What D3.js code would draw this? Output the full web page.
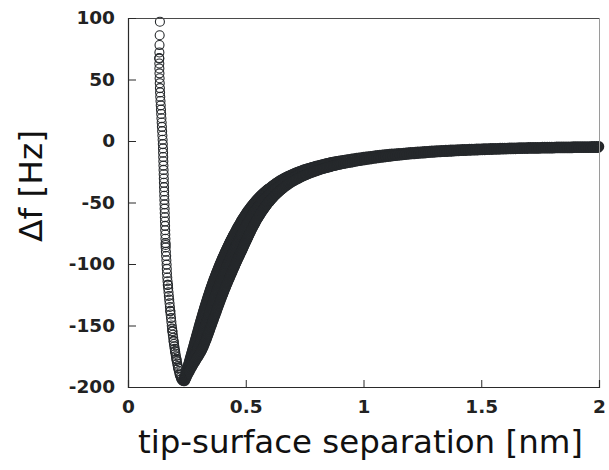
<!DOCTYPE html>
<html><head><meta charset="utf-8">
<script src="https://cdn.jsdelivr.net/npm/d3@7"></script>
<style>html,body{margin:0;padding:0;background:#fff;} svg{display:block;}</style>
</head><body>
<script>
// ---------- data ----------
const xTicks = [0, 0.5, 1, 1.5, 2];
const yTicks = [-200, -150, -100, -50, 0, 50, 100];
const xTitle = "tip-surface separation [nm]";
const yTitle = "Δf [Hz]";

// curve A: repulsive branch (sparse) [separation nm, Δf Hz]
const curveA_left = [[0.1355,97],[0.1345,86],[0.1338,78],[0.1333,72],[0.1330,67],[0.1330,63],[0.1332,59],[0.1336,55],[0.1342,51],[0.1348,47],[0.1355,43],[0.1362,39.5],[0.1370,36],[0.1380,32.5],[0.1390,29],[0.1400,25.5],[0.1410,22],[0.1420,18.5],[0.1430,15],[0.1440,11.5],[0.1450,8],[0.1460,4.5],[0.1470,1],[0.1478,-2.5],[0.1485,-6],[0.1490,-9.5],[0.1495,-13],[0.1500,-16.5],[0.1505,-20],[0.1510,-23.5],[0.1515,-27],[0.1520,-30.5],[0.1525,-34],[0.1530,-37.5],[0.1535,-41],[0.1540,-44.5],[0.1545,-48],[0.1550,-51.5],[0.1555,-55],[0.1560,-58.5],[0.1565,-62],[0.1570,-65.5],[0.1575,-69],[0.1580,-72.5],[0.1585,-76],[0.1590,-79.5],[0.1595,-83],[0.1600,-86.5],[0.1610,-90],[0.1620,-93.5],[0.1630,-97],[0.1640,-100.5],[0.1648,-104],[0.1655,-107.5],[0.1668,-111],[0.1680,-114],[0.1693,-117],[0.1707,-120],[0.1721,-123],[0.1735,-126],[0.1750,-129],[0.1765,-132],[0.1780,-135],[0.1795,-138],[0.1810,-141],[0.1826,-144],[0.1842,-147],[0.1858,-150],[0.1872,-152.5],[0.1887,-155],[0.1903,-157.5],[0.1919,-160],[0.1936,-162.5],[0.1953,-165],[0.1968,-167],[0.1984,-169],[0.2000,-171],[0.2017,-173],[0.2035,-175],[0.2053,-177],[0.2072,-179],[0.2092,-181],[0.2113,-183],[0.2136,-185],[0.2160,-187],[0.2186,-189],[0.2210,-190.5],[0.2238,-192],[0.2268,-193.5],[0.2300,-194.5],[0.2330,-195]];

// curve A: attractive branch (dense)
const curveA_right = [[0.236,-195.0],[0.238,-193.8],[0.240,-192.5],[0.242,-191.2],[0.244,-189.9],[0.246,-188.6],[0.248,-187.3],[0.250,-186.0],[0.252,-184.7],[0.254,-183.3],[0.256,-182.0],[0.258,-180.6],[0.260,-179.3],[0.262,-177.9],[0.264,-176.5],[0.266,-175.2],[0.268,-173.8],[0.270,-172.5],[0.272,-171.1],[0.274,-169.8],[0.276,-168.4],[0.278,-167.0],[0.280,-165.6],[0.282,-164.2],[0.284,-162.9],[0.286,-161.5],[0.288,-160.1],[0.290,-158.7],[0.292,-157.3],[0.294,-156.0],[0.296,-154.6],[0.298,-153.2],[0.300,-151.9],[0.302,-150.5],[0.304,-149.2],[0.306,-147.8],[0.308,-146.5],[0.310,-145.1],[0.312,-143.8],[0.314,-142.5],[0.316,-141.2],[0.318,-139.9],[0.320,-138.6],[0.322,-137.3],[0.324,-136.0],[0.326,-134.8],[0.328,-133.5],[0.330,-132.3],[0.332,-131.1],[0.334,-129.8],[0.336,-128.6],[0.338,-127.4],[0.340,-126.3],[0.342,-125.1],[0.344,-123.9],[0.346,-122.8],[0.348,-121.6],[0.350,-120.5],[0.352,-119.4],[0.354,-118.3],[0.356,-117.2],[0.358,-116.1],[0.360,-115.0],[0.362,-114.0],[0.364,-112.9],[0.366,-111.9],[0.368,-110.9],[0.370,-109.9],[0.372,-108.9],[0.374,-107.9],[0.376,-106.9],[0.378,-106.0],[0.380,-105.0],[0.382,-104.1],[0.384,-103.1],[0.386,-102.2],[0.388,-101.2],[0.390,-100.3],[0.392,-99.4],[0.394,-98.5],[0.396,-97.6],[0.398,-96.7],[0.400,-95.8],[0.402,-95.0],[0.404,-94.1],[0.406,-93.2],[0.408,-92.4],[0.410,-91.5],[0.412,-90.7],[0.414,-89.8],[0.416,-89.0],[0.418,-88.2],[0.420,-87.4],[0.422,-86.5],[0.424,-85.7],[0.426,-84.9],[0.428,-84.1],[0.430,-83.3],[0.432,-82.5],[0.434,-81.8],[0.436,-81.0],[0.438,-80.3],[0.440,-79.5],[0.442,-78.8],[0.444,-78.0],[0.446,-77.3],[0.448,-76.5],[0.450,-75.8],
[0.453,-74.7],[0.456,-73.6],[0.459,-72.5],[0.462,-71.4],[0.465,-70.4],[0.468,-69.4],[0.471,-68.4],[0.474,-67.4],[0.477,-66.4],[0.480,-65.3],[0.483,-64.4],[0.486,-63.5],[0.489,-62.6],[0.492,-61.7],[0.495,-60.8],[0.498,-59.9],[0.501,-59.1],[0.504,-58.2],[0.507,-57.4],[0.510,-56.6],[0.513,-55.8],[0.516,-55.0],[0.519,-54.2],[0.522,-53.5],[0.525,-52.8],[0.528,-52.1],[0.531,-51.4],[0.534,-50.7],[0.537,-49.9],[0.540,-49.3],[0.543,-48.6],[0.546,-48.0],[0.549,-47.4],[0.552,-46.8],[0.555,-46.1],[0.558,-45.5],[0.561,-44.9],[0.564,-44.4],[0.567,-43.8],[0.570,-43.3],[0.573,-42.7],[0.576,-42.2],[0.579,-41.7],[0.582,-41.2],[0.585,-40.7],[0.588,-40.3],[0.591,-39.7],[0.594,-39.2],[0.597,-38.8],[0.600,-38.4],
[0.606,-37.5],[0.612,-36.5],[0.618,-35.7],[0.624,-34.9],[0.630,-34.0],[0.636,-33.3],[0.642,-32.6],[0.648,-31.8],[0.654,-31.2],[0.660,-30.6],[0.666,-29.9],[0.672,-29.3],[0.678,-28.8],[0.684,-28.3],[0.690,-27.7],[0.696,-27.2],[0.702,-26.7],[0.708,-26.2],[0.714,-25.7],[0.720,-25.3],[0.726,-24.8],[0.732,-24.4],[0.738,-24.0],[0.744,-23.5],[0.750,-23.2],[0.756,-22.8],[0.762,-22.4],[0.768,-22.1],[0.774,-21.8],[0.780,-21.4],[0.786,-21.1],[0.792,-20.8],[0.798,-20.4],[0.804,-20.1],[0.810,-19.9],[0.816,-19.6],[0.822,-19.3],[0.828,-19.0],[0.834,-18.8],[0.840,-18.4],[0.846,-18.2],[0.852,-17.9],[0.858,-17.6],[0.864,-17.4],[0.870,-17.2],[0.876,-16.9],[0.882,-16.7],[0.888,-16.5],[0.894,-16.2],[0.900,-16.0],
[0.91,-15.7],[0.92,-15.4],[0.93,-15.1],[0.94,-14.8],[0.95,-14.5],[0.96,-14.2],[0.97,-13.9],[0.98,-13.6],[0.99,-13.4],[1.00,-13.1],[1.01,-12.9],[1.02,-12.6],[1.03,-12.4],[1.04,-12.2],[1.05,-11.9],[1.06,-11.7],[1.07,-11.5],[1.08,-11.3],[1.09,-11.1],[1.10,-10.9],[1.11,-10.7],[1.12,-10.5],[1.13,-10.4],[1.14,-10.2],[1.15,-10.0],[1.16,-9.9],[1.17,-9.7],[1.18,-9.5],[1.19,-9.4],[1.20,-9.2],[1.21,-9.1],[1.22,-8.9],[1.23,-8.8],[1.24,-8.7],[1.25,-8.5],[1.26,-8.4],[1.27,-8.3],[1.28,-8.2],[1.29,-8.0],[1.30,-7.9],[1.31,-7.8],[1.32,-7.7],[1.33,-7.6],[1.34,-7.5],[1.35,-7.4],[1.36,-7.3],[1.37,-7.2],[1.38,-7.1],[1.39,-7.1],[1.40,-7.0],[1.41,-6.9],[1.42,-6.8],[1.43,-6.7],[1.44,-6.7],[1.45,-6.6],[1.46,-6.5],[1.47,-6.5],[1.48,-6.4],[1.49,-6.3],[1.50,-6.3],[1.51,-6.2],[1.52,-6.1],[1.53,-6.1],[1.54,-6.0],[1.55,-6.0],[1.56,-5.9],[1.57,-5.9],[1.58,-5.8],[1.59,-5.8],[1.60,-5.7],[1.61,-5.7],[1.62,-5.6],[1.63,-5.6],[1.64,-5.5],[1.65,-5.5],[1.66,-5.4],[1.67,-5.4],[1.68,-5.3],[1.69,-5.3],[1.70,-5.2],[1.71,-5.2],[1.72,-5.2],[1.73,-5.1],[1.74,-5.1],[1.75,-5.1],[1.76,-5.0],[1.77,-5.0],[1.78,-4.9],[1.79,-4.9],[1.80,-4.9],[1.81,-4.9],[1.82,-4.8],[1.83,-4.8],[1.84,-4.8],[1.85,-4.7],[1.86,-4.7],[1.87,-4.7],[1.88,-4.7],[1.89,-4.6],[1.90,-4.6],[1.91,-4.6],[1.92,-4.6],[1.93,-4.5],[1.94,-4.5],[1.95,-4.5],[1.96,-4.5],[1.97,-4.4],[1.98,-4.4],[1.99,-4.4],[2.00,-4.4]];

// curve B: repulsive branch points (coincide with curve A)
const curveB_left = [[0.1325,67.5],[0.1598,-84.5],[0.1693,-117],[0.1797,-138.5],[0.1884,-154.5],[0.1940,-163],[0.2000,-171],[0.2060,-177.5],[0.2130,-184.5],[0.2200,-190],[0.2270,-193.5]];

// curve B: attractive branch
const curveB_right = [[0.241,-195.0],[0.244,-193.8],[0.247,-192.5],[0.250,-191.2],[0.253,-189.9],[0.2567,-188.6],[0.2604,-187.3],[0.264,-186.0],[0.268,-184.7],[0.272,-183.3],[0.276,-182.0],[0.2805,-180.6],[0.2847,-179.3],[0.2892,-177.9],[0.2936,-176.5],[0.2979,-175.2],[0.3023,-173.8],[0.3062,-172.5],[0.3103,-171.1],[0.3142,-169.8],[0.3173,-168.4],[0.3204,-167.0],[0.3235,-165.6],[0.3265,-164.2],[0.3293,-162.9],[0.3321,-161.5],[0.3349,-160.1],[0.3375,-158.7],[0.3401,-157.3],[0.3426,-156.0],[0.3452,-154.6],[0.3477,-153.2],[0.3502,-151.9],[0.3528,-150.5],[0.3553,-149.2],[0.3579,-147.8],[0.3604,-146.5],[0.363,-145.1],[0.3655,-143.8],[0.368,-142.5],[0.3705,-141.2],[0.373,-139.9],[0.3754,-138.6],[0.3778,-137.3],[0.3802,-136.0],[0.3826,-134.8],[0.385,-133.5],[0.3873,-132.3],[0.3897,-131.1],[0.392,-129.8],[0.3944,-128.6],[0.3968,-127.4],[0.3991,-126.3],[0.4015,-125.1],[0.4038,-123.9],[0.4062,-122.8],[0.4085,-121.6],[0.4109,-120.5],[0.4132,-119.4],[0.4155,-118.3],[0.4178,-117.2],[0.4202,-116.1],[0.4225,-115.0],[0.4248,-114.0],[0.4271,-112.9],[0.4294,-111.9],[0.4317,-110.9],[0.434,-109.9],[0.4362,-108.9],[0.4384,-107.9],[0.4406,-106.9],[0.4428,-106.0],[0.445,-105.0],[0.4472,-104.1],[0.4494,-103.1],[0.4516,-102.2],[0.4538,-101.2],[0.456,-100.3],[0.4581,-99.4],[0.4602,-98.5],[0.4622,-97.6],[0.4643,-96.7],[0.4664,-95.8],[0.4685,-95.0],[0.4706,-94.1],[0.4727,-93.2],[0.4748,-92.4],[0.4768,-91.5],[0.4789,-90.7],[0.481,-89.8],[0.483,-89.0],[0.4849,-88.2],[0.4868,-87.4],[0.4887,-86.5],[0.4906,-85.7],[0.4925,-84.9],[0.4944,-84.1],[0.4963,-83.3],[0.4983,-82.5],[0.5002,-81.8],[0.5021,-81.0],[0.504,-80.3],[0.5059,-79.5],[0.5078,-78.8],[0.5096,-78.0],[0.5115,-77.3],[0.5133,-76.5],[0.5152,-75.8],[0.518,-74.7],[0.5207,-73.6],[0.5235,-72.5],[0.5263,-71.4],[0.5291,-70.4],[0.5319,-69.4],[0.5347,-68.4],[0.5375,-67.4],[0.5403,-66.4],[0.5431,-65.3],[0.5459,-64.4],[0.5487,-63.5],[0.5515,-62.6],[0.5543,-61.7],[0.5572,-60.8],[0.56,-59.9],[0.5628,-59.1],[0.5656,-58.2],[0.5685,-57.4],[0.5713,-56.6],[0.5742,-55.8],[0.577,-55.0],[0.5798,-54.2],[0.5827,-53.5],[0.5856,-52.8],[0.5884,-52.1],[0.5913,-51.4],[0.5941,-50.7],[0.597,-49.9],[0.5999,-49.3],[0.6027,-48.6],[0.6056,-48.0],[0.6085,-47.4],[0.6114,-46.8],[0.6142,-46.1],[0.6171,-45.5],[0.62,-44.9],[0.6229,-44.4],[0.6258,-43.8],[0.6287,-43.3],[0.6315,-42.7],[0.6344,-42.2],[0.6373,-41.7],[0.6402,-41.2],[0.6431,-40.7],[0.6461,-40.3],[0.649,-39.7],[0.652,-39.2],[0.655,-38.8],[0.658,-38.4],
[0.663,-37.7],[0.669,-36.8],[0.675,-35.9],[0.681,-35.2],[0.687,-34.4],[0.693,-33.6],[0.699,-33.0],[0.705,-32.3],[0.711,-31.6],[0.717,-31.0],[0.723,-30.4],[0.729,-29.8],[0.735,-29.2],[0.741,-28.7],[0.747,-28.3],[0.753,-27.7],[0.759,-27.2],[0.765,-26.7],[0.771,-26.3],[0.777,-25.8],[0.783,-25.4],[0.789,-25.0],[0.795,-24.5],[0.801,-24.2],[0.807,-23.7],[0.813,-23.4],[0.819,-23.0],[0.825,-22.6],[0.831,-22.3],[0.837,-22.0],[0.843,-21.7],[0.849,-21.3],[0.855,-21.1],[0.861,-20.8],[0.867,-20.4],[0.873,-20.1],[0.879,-19.9],[0.885,-19.6],[0.891,-19.3],[0.897,-19.1],
[0.905,-18.8],[0.915,-18.5],[0.925,-18.1],[0.935,-17.7],[0.945,-17.4],[0.955,-17.0],[0.965,-16.7],[0.975,-16.3],[0.985,-16.0],[0.995,-15.7],[1.005,-15.4],[1.015,-15.1],[1.025,-14.8],[1.035,-14.5],[1.045,-14.2],[1.055,-13.9],[1.065,-13.7],[1.075,-13.4],[1.085,-13.2],[1.095,-12.9],[1.105,-12.7],[1.115,-12.5],[1.125,-12.2],[1.135,-12.0],[1.145,-11.8],[1.155,-11.6],[1.165,-11.4],[1.175,-11.2],[1.185,-11.0],[1.195,-10.8],[1.205,-10.6],[1.215,-10.5],[1.225,-10.3],[1.235,-10.2],[1.245,-10.0],[1.255,-9.9],[1.265,-9.7],[1.275,-9.6],[1.285,-9.4],[1.295,-9.3],[1.305,-9.2],[1.315,-9.0],[1.325,-8.9],[1.335,-8.8],[1.345,-8.7],[1.355,-8.6],[1.365,-8.5],[1.375,-8.4],[1.385,-8.2],[1.395,-8.1],[1.405,-8.0],[1.415,-7.9],[1.425,-7.9],[1.435,-7.8],[1.445,-7.7],[1.455,-7.6],[1.465,-7.5],[1.475,-7.5],[1.485,-7.4],[1.495,-7.3],[1.505,-7.2],[1.515,-7.2],[1.525,-7.1],[1.535,-7.0],[1.545,-7.0],[1.555,-6.9],[1.565,-6.8],[1.575,-6.8],[1.585,-6.7],[1.595,-6.6],[1.605,-6.6],[1.615,-6.5],[1.625,-6.5],[1.635,-6.4],[1.645,-6.4],[1.655,-6.3],[1.665,-6.3],[1.675,-6.2],[1.685,-6.2],[1.695,-6.2],[1.705,-6.1],[1.715,-6.1],[1.725,-6.0],[1.735,-6.0],[1.745,-6.0],[1.755,-5.9],[1.765,-5.9],[1.775,-5.9],[1.785,-5.8],[1.795,-5.8],[1.805,-5.8],[1.815,-5.7],[1.825,-5.7],[1.835,-5.7],[1.845,-5.7],[1.855,-5.6],[1.865,-5.6],[1.875,-5.6],[1.885,-5.6],[1.895,-5.5],[1.905,-5.5],[1.915,-5.5],[1.925,-5.5],[1.935,-5.5],[1.945,-5.4],[1.955,-5.4],[1.965,-5.4],[1.975,-5.4],[1.985,-5.4],[1.995,-5.4]];

// curve C: attractive branch lying between A and B
const curveC_right = [[0.241,-193.8],[0.2435,-192.5],[0.246,-191.2],[0.2485,-189.9],[0.2514,-188.6],[0.2542,-187.3],[0.257,-186.0],[0.260,-184.7],[0.263,-183.3],[0.266,-182.0],[0.2693,-180.6],[0.2724,-179.3],[0.2756,-177.9],[0.2788,-176.5],[0.282,-175.2],[0.2852,-173.8],[0.2881,-172.5],[0.2912,-171.1],[0.2941,-169.8],[0.2967,-168.4],[0.2992,-167.0],[0.3018,-165.6],[0.3043,-164.2],[0.3067,-162.9],[0.3091,-161.5],[0.3115,-160.1],[0.3138,-158.7],[0.3161,-157.3],[0.3183,-156.0],[0.3206,-154.6],[0.3229,-153.2],[0.3251,-151.9],[0.3274,-150.5],[0.3297,-149.2],[0.332,-147.8],[0.3342,-146.5],[0.3365,-145.1],[0.3388,-143.8],[0.341,-142.5],[0.3433,-141.2],[0.3455,-139.9],[0.3477,-138.6],[0.3499,-137.3],[0.3521,-136.0],[0.3543,-134.8],[0.3565,-133.5],[0.3587,-132.3],[0.3609,-131.1],[0.363,-129.8],[0.3652,-128.6],[0.3674,-127.4],[0.3696,-126.3],[0.3718,-125.1],[0.3739,-123.9],[0.3761,-122.8],[0.3783,-121.6],[0.3805,-120.5],[0.3826,-119.4],[0.3848,-118.3],[0.3869,-117.2],[0.3891,-116.1],[0.3913,-115.0],[0.3934,-114.0],[0.3956,-112.9],[0.3977,-111.9],[0.3999,-110.9],[0.402,-109.9],[0.4041,-108.9],[0.4062,-107.9],[0.4083,-106.9],[0.4104,-106.0],[0.4125,-105.0],[0.4146,-104.1],[0.4167,-103.1],[0.4188,-102.2],[0.4209,-101.2],[0.423,-100.3],[0.4251,-99.4],[0.4271,-98.5],[0.4291,-97.6],[0.4312,-96.7],[0.4332,-95.8],[0.4353,-95.0],[0.4373,-94.1],[0.4394,-93.2],[0.4414,-92.4],[0.4434,-91.5],[0.4455,-90.7],[0.4475,-89.8],[0.4495,-89.0],[0.4515,-88.2],[0.4534,-87.4],[0.4554,-86.5],[0.4573,-85.7],[0.4593,-84.9],[0.4612,-84.1],[0.4632,-83.3],[0.4652,-82.5],[0.4671,-81.8],[0.4691,-81.0],[0.471,-80.3],[0.473,-79.5],[0.4749,-78.8],[0.4768,-78.0],[0.4788,-77.3],[0.4807,-76.5],[0.4826,-75.8],[0.4855,-74.7],[0.4884,-73.6],[0.4913,-72.5],[0.4942,-71.4],[0.4971,-70.4],[0.5,-69.4],[0.5029,-68.4],[0.5058,-67.4],[0.5087,-66.4],[0.5116,-65.3],[0.5145,-64.4],[0.5174,-63.5],[0.5203,-62.6],[0.5232,-61.7],[0.5261,-60.8],[0.529,-59.9],[0.5319,-59.1],[0.5348,-58.2],[0.5378,-57.4],[0.5407,-56.6],[0.5436,-55.8],[0.5465,-55.0],[0.5494,-54.2],[0.5524,-53.5],[0.5553,-52.8],[0.5582,-52.1],[0.5612,-51.4],[0.5641,-50.7],[0.567,-49.9],[0.57,-49.3],[0.5729,-48.6],[0.5758,-48.0],[0.5788,-47.4],[0.5817,-46.8],[0.5846,-46.1],[0.5876,-45.5],[0.5905,-44.9],[0.5935,-44.4],[0.5964,-43.8],[0.5994,-43.3],[0.6023,-42.7],[0.6052,-42.2],[0.6082,-41.7],[0.6111,-41.2],[0.6141,-40.7],[0.6171,-40.3],[0.62,-39.7],[0.623,-39.2],[0.626,-38.8],[0.629,-38.4],
[0.635,-37.8],[0.641,-37.0],[0.647,-36.2],[0.653,-35.4],[0.659,-34.6],[0.665,-33.7],[0.671,-33.0],[0.677,-32.3],[0.683,-31.7],[0.689,-31.0],[0.695,-30.4],[0.701,-29.8],[0.707,-29.2],[0.713,-28.6],[0.719,-28.1],[0.725,-27.6],[0.731,-27.1],[0.737,-26.6],[0.743,-26.1],[0.749,-25.7]];

// ---------- drawing ----------
const W = 609, H = 470;
const L = 128, R = 599, T = 18, B = 387;
const ink = "#25282b";

const svg = d3.select("body").append("svg").attr("width", W).attr("height", H);
svg.append("rect").attr("width", W).attr("height", H).attr("fill", "#fff");

const x = d3.scaleLinear().domain([0, 2]).range([L, R]);
const y = d3.scaleLinear().domain([-200, 100]).range([B, T]);

// markers: sparse repulsive points thin, dense attractive points drawn with heavier outline
const series = [
  {data: curveA_right, sw: 2.2, r: 4.2},
  {data: curveC_right, sw: 2.2, r: 4.2},
  {data: curveB_right, sw: 2.2, r: 4.2},
  {data: curveA_left, sw: 1.1, r: 4.5},
  {data: curveB_left, sw: 1.1, r: 4.5}
];
const gPts = svg.append("g");
series.forEach(s => {
  gPts.selectAll(null).data(s.data).enter().append("circle")
    .attr("cx", d => x(d[0]))
    .attr("cy", d => y(d[1]))
    .attr("r", s.r)
    .attr("fill", "none")
    .attr("stroke", ink)
    .attr("stroke-width", s.sw);
});

// frame
svg.append("line").attr("x1", L).attr("x2", R).attr("y1", T + 0.5).attr("y2", T + 0.5).attr("stroke", "#4a4a4a").attr("stroke-width", 1);
svg.append("line").attr("x1", R + 0.5).attr("x2", R + 0.5).attr("y1", T).attr("y2", B).attr("stroke", "#9a9a9a").attr("stroke-width", 1);

// axes
const xAxis = d3.axisBottom(x).tickValues(xTicks).tickSize(-7).tickPadding(13).tickFormat(d => String(d));
const yAxis = d3.axisLeft(y).tickValues(yTicks).tickSize(-8).tickPadding(13).tickFormat(d => String(d));

const gx = svg.append("g").attr("transform", `translate(0,${B})`).call(xAxis);
const gy = svg.append("g").attr("transform", `translate(${L},0)`).call(yAxis);

[gx, gy].forEach(g => {
  g.select(".domain").attr("stroke", "#2a2a2a").attr("stroke-width", 1.2);
  g.selectAll(".tick line").attr("stroke", "#2a2a2a").attr("stroke-width", 1);
  g.selectAll(".tick text")
    .attr("fill", "#222")
    .style("font-family", "'DejaVu Sans', sans-serif")
    .style("font-weight", "bold")
    .style("font-size", "18.5px");
});

// titles
svg.append("text")
  .attr("x", 360.5).attr("y", 453)
  .attr("text-anchor", "middle")
  .attr("textLength", 445).attr("lengthAdjust", "spacingAndGlyphs")
  .style("font-family", "'DejaVu Sans', sans-serif")
  .style("font-size", "32px")
  .attr("fill", "#111")
  .text(xTitle);

svg.append("text")
  .attr("transform", "translate(42,186) rotate(-90)")
  .attr("text-anchor", "middle")
  .attr("textLength", 112).attr("lengthAdjust", "spacingAndGlyphs")
  .style("font-family", "'DejaVu Sans', sans-serif")
  .style("font-size", "32px")
  .attr("fill", "#111")
  .text(yTitle);
</script>
</body></html>
